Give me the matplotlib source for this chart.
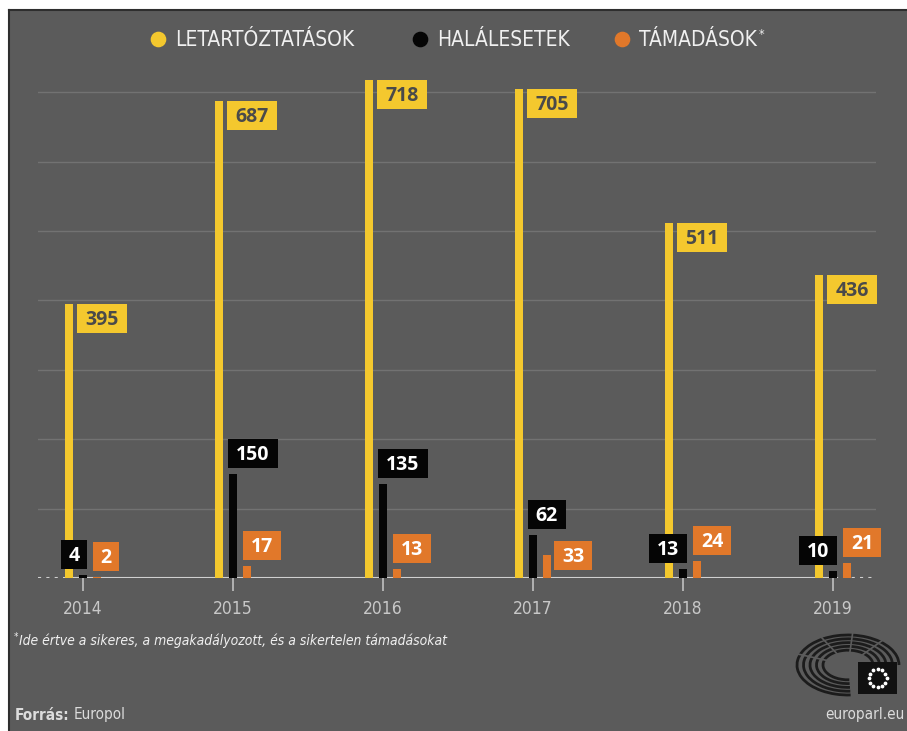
import numpy as np
import matplotlib
matplotlib.use('Agg')
import matplotlib.pyplot as plt
from matplotlib.patches import Rectangle, Arc

# Data (Europol, terrorism in the EU)
years = ['2014', '2015', '2016', '2017', '2018', '2019']
arrests = [395, 687, 718, 705, 511, 436]
deaths = [4, 150, 135, 62, 13, 10]
attacks = [2, 17, 13, 33, 24, 21]
legend_labels = ['LETARTÓZTATÁSOK', 'HALÁLESETEK', 'TÁMADÁSOK']

YELLOW = '#f4c82e'
BLACK = '#050505'
ORANGE = '#e1782a'
BG = '#5b5b5b'
NARROW = dict(family='DejaVu Sans', fontstretch='condensed')

W, H = 907, 731
fig = plt.figure(figsize=(W / 100, H / 100), dpi=100, facecolor='white')

# full-figure axes in pixel coordinates for background, legend and footer
bg = fig.add_axes([0, 0, 1, 1], zorder=0)
bg.set_xlim(0, W)
bg.set_ylim(H, 0)
bg.axis('off')
bg.add_patch(Rectangle((9, 10), W - 9, H - 10, fc=BG, ec='none'))
bg.plot([9, 9], [10, H], color='#2e2e2e', lw=1.5)
bg.plot([9, W], [10, 10], color='#2e2e2e', lw=1.5)

# main chart axes, placed so that 1 year = 150 px and 1 unit = 0.694 px
X0, SX = 83, 150.0
Y0, SY = 578, 0.694
ax = fig.add_axes([38 / W, (H - Y0) / H, (876 - 38) / W, (Y0 - 70) / H], zorder=1)
ax.set_xlim((38 - X0) / SX, (876 - X0) / SX)
ax.set_ylim(0, (Y0 - 70) / SY)
ax.patch.set_alpha(0)
for s in ax.spines.values():
    s.set_visible(False)


def dx(p):
    return p / SX


def dy(p):
    return p / SY


idx = np.arange(len(years))
bw = dx(8)
off = dx(14)
BH = 29  # label box height, px
GAP = 6


def box_w(text):
    return 14 + 12 * len(text)


for v in range(100, 800, 100):
    ax.axhline(v, color='#727272', lw=1, zorder=1)

ax.bar(idx - off, arrests, width=bw, color=YELLOW, zorder=3)
ax.bar(idx, deaths, width=bw, color=BLACK, zorder=3)
ax.bar(idx + off, attacks, width=bw, color=ORANGE, zorder=3)

# baseline: solid in the middle, dotted at both ends
left_solid = idx[0] - off - bw / 2
right_solid = idx[-1] + dx(2)
ax.plot([left_solid, right_solid], [0, 0], color='#d0d0d0', lw=1.5, zorder=2,
        solid_capstyle='butt')
ax.plot([ax.get_xlim()[0], left_solid], [0, 0], color='#d0d0d0', lw=1.5,
        ls=(0, (1.5, 2.5)), zorder=2)
ax.plot([right_solid, ax.get_xlim()[1]], [0, 0], color='#d0d0d0', lw=1.5,
        ls=(0, (1.5, 2.5)), zorder=2)

ax.set_xticks(idx, years)
ax.set_yticks([])
ax.tick_params(axis='x', length=9, width=1.2, color='#c0c0c0', pad=7,
               labelsize=12.5, labelcolor='#c8c8c8')
for t in ax.get_xticklabels():
    t.set_fontfamily('DejaVu Sans')
    t.set_fontstretch('condensed')


def box(x_left, y_bottom, text, fc, tc):
    w = dx(box_w(text))
    h = dy(BH)
    ax.add_patch(Rectangle((x_left, y_bottom), w, h, fc=fc, ec='none',
                           zorder=5, clip_on=False))
    ax.text(x_left + w / 2, y_bottom + h / 2 - dy(1.5), text, ha='center',
            va='center', fontsize=14, fontweight='bold', family='Open Sans',
            color=tc, zorder=6, clip_on=False)


for i in idx:
    # arrests: box right of the bar top
    box(i - off + bw / 2 + dx(4), arrests[i] - dy(BH), str(arrests[i]), YELLOW, '#4a4a4a')
    # deaths: box above the bar
    txt = str(deaths[i])
    if deaths[i] >= 50:
        xl = i - bw / 2 - dx(1)
    else:
        xl = i + bw / 2 - dx(box_w(txt))
    black_bottom = deaths[i] * SY + GAP
    box(xl, deaths[i] + dy(GAP), txt, BLACK, 'white')
    # attacks: box above the bar, or beside it if it would hit the black box
    txt = str(attacks[i])
    orange_top = attacks[i] * SY + GAP + BH
    if deaths[i] >= 50 and orange_top > black_bottom - 4:
        box(i + off + bw / 2 + dx(3), attacks[i] - dy(BH / 2), txt, ORANGE, 'white')
    else:
        box(i + off - bw / 2, attacks[i] + dy(GAP), txt, ORANGE, 'white')

# legend
for x, lab, col in zip([158, 420, 622], legend_labels, [YELLOW, BLACK, ORANGE]):
    bg.scatter([x], [39], s=105, color=col, zorder=3)
    t = bg.text(x + 17, 40, lab, va='center', ha='left', fontsize=15,
                color='#f0f0f0', **NARROW)
bg.annotate('*', xy=(1, 1), xycoords=t, xytext=(2, 2), textcoords='offset pixels',
            ha='left', va='top', fontsize=9, color='#f0f0f0', **NARROW)

# footnote and source
bg.text(14, 637, '*', fontsize=7, color='#f0f0f0', va='center', **NARROW)
bg.text(19, 641, 'Ide értve a sikeres, a megakadályozott, és a sikertelen támadásokat',
        fontsize=10, style='italic', color='#f0f0f0', va='center', **NARROW)
src = bg.text(15, 715, 'Forrás:', fontsize=11, fontweight='bold', color='#dcdcdc',
              va='center', **NARROW)
bg.annotate('Europol', xy=(1, 0.5), xycoords=src, xytext=(4, 0),
            textcoords='offset pixels', ha='left', va='center', fontsize=11,
            color='#dcdcdc', **NARROW)
bg.text(905, 715, 'europarl.eu', fontsize=11, color='#dcdcdc',
        ha='right', va='center', **NARROW)

# parliament logo
cx, cy = 848, 665
for k in range(5):
    rw, rh = 51 - 6.5 * k, 30 - 3.8 * k
    bg.add_patch(Arc((cx, cy), 2 * rw, 2 * rh, theta1=85, theta2=360,
                     color='#1c1c1c', lw=2))
for ang in [200, 240, 275, 310]:
    a = np.deg2rad(ang)
    bg.plot([cx + 22 * np.cos(a), cx + 55 * np.cos(a)],
            [cy + 13 * np.sin(a), cy + 33 * np.sin(a)], color=BG, lw=1.2)
bg.add_patch(Rectangle((858, 662), 39, 32, fc='#111111', ec='none', zorder=4))
st = np.linspace(0, 2 * np.pi, 12, endpoint=False)
bg.scatter(877.5 + 9 * np.cos(st), 678 + 9 * np.sin(st), s=3, color='white', zorder=5)

fig.savefig('out.png', dpi=100, facecolor='white')
